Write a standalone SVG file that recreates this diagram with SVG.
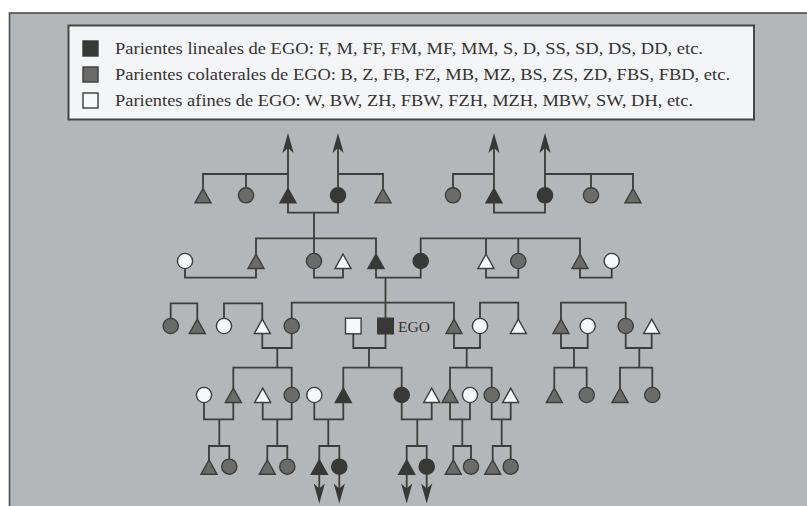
<svg xmlns="http://www.w3.org/2000/svg" xmlns:xlink="http://www.w3.org/1999/xlink" width="807" height="506" viewBox="0 0 807 506">
<style>
.bg{fill:#ffffff}
.panel{fill:#b4b7b9;stroke:#4d4d4b;stroke-width:1.6}
.legend{fill:#f3f5f6;stroke:#464644;stroke-width:2}
.lt{font-family:"Liberation Serif","Times New Roman",serif;font-size:17px;fill:#333331}
.ego{font-family:"Liberation Serif","Times New Roman",serif;font-size:15.5px;fill:#333331}
.k{fill:#383836;stroke:#383836;stroke-width:1.4}
.g{fill:#6b6b6a;stroke:#3c3c3a;stroke-width:1.4}
.w{fill:#f7f8f9;stroke:#3c3c3a;stroke-width:1.4}
.ln{fill:none;stroke:#3c3c3a;stroke-width:1.8}
.ah{fill:#383836;stroke:none}
</style>
<defs>
<path id="tri" d="M0,-6.8 L8,7.5 L-8,7.5 Z"/>
<circle id="cir" r="7.6"/>
<rect id="sq" x="-7.8" y="-7.8" width="15.6" height="15.6"/>
<path id="up" d="M0,0 L5.6,20 L0,15 L-5.6,20 Z"/>
<path id="dn" d="M0,0 L5.6,-20 L0,-15 L-5.6,-20 Z"/>
</defs>
<rect class="bg" x="0" y="0" width="807" height="506"/>
<rect class="panel" x="9.5" y="13" width="810" height="510"/>
<g id="legend">
<rect class="legend" x="68.5" y="25.5" width="685.5" height="94"/>
<rect class="k" x="83" y="41" width="15" height="15"/>
<rect class="g" x="83" y="67" width="15" height="15"/>
<rect class="w" x="83" y="93" width="15" height="15"/>
<text class="lt" x="115" y="54" textLength="588" lengthAdjust="spacingAndGlyphs">Parientes lineales de EGO: F, M, FF, FM, MF, MM, S, D, SS, SD, DS, DD, etc.</text>
<text class="lt" x="115" y="80" textLength="615" lengthAdjust="spacingAndGlyphs">Parientes colaterales de EGO: B, Z, FB, FZ, MB, MZ, BS, ZS, ZD, FBS, FBD, etc.</text>
<text class="lt" x="115" y="105.5" textLength="578" lengthAdjust="spacingAndGlyphs">Parientes afines de EGO: W, BW, ZH, FBW, FZH, MZH, MBW, SW, DH, etc.</text>
</g>
<g id="connectors">
<path class="ln" d="M288,140 V188.5 M338,140 V187.5 M494,140 V188.5 M545,140 V187.5
M203,188.5 V174 H288 M246,187.5 V174 M338,174 H383 V188.5 M453,187.5 V174 H494 M545,174 H633 V188.5 M591,174 V187.5
M288,202.5 V212.7 H338 V202.6 M494,202.5 V212.7 H545 V202.6
M314,212.7 V253.5 M256,254.5 V238.3 H376 V254.5
M420.7,253.5 V238.3 H580 V254.5 M486,238.3 V254.5 M518.3,238.3 V253.5
M185,268.6 V277.7 H256 V268.5 M314,268.6 V277.7 H343 V268.5 M376,268.5 V277.7 H420.7 V268.6 M486,268.5 V277.7 H518.3 V268.6 M580,268.5 V277.7 H611.7 V268.6
M385.5,277.7 V318.2
M170.7,318.4 V303.3 H197.3 V319.2 M224,318.4 V303.3 H262.3 V319.2 M291.7,318.4 V302.7 H454 V319.2 M480,318.4 V302.7 H518.3 V319.2 M561,319.2 V302.7 H625.7 V318.4
M262.3,333.5 V348 H291.7 V333.6 M353.3,333.8 V348 H385.5 V333.8 M454,333.5 V348 H480 V333.6 M561,333.5 V348 H587.7 V333.6 M625.7,333.6 V348 H651.7 V333.5
M277.3,348 V367.7 M369,348 V367.7 M466.7,348 V367.7 M574,348 V367.7 M639.3,348 V367.7
M233.3,388.2 V367.7 H291.7 V387.4 M343.3,388.2 V367.7 H401.7 V387.4 M450,388.2 V367.7 H491.7 V387.4 M554.3,388.2 V367.7 H586.7 V387.4 M620,388.2 V367.7 H652.3 V387.4
M204,402.6 V419.3 H233.3 V402.5 M262.7,402.5 V419.3 H291.7 V402.6 M314.3,402.6 V419.3 H343.3 V402.5 M401.7,402.6 V419.3 H431.7 V402.5 M450,402.5 V419.3 H470 V402.6 M491.7,402.6 V419.3 H510.7 V402.5
M219.3,419.3 V446 M277.3,419.3 V446 M328.3,419.3 V446 M417.3,419.3 V446 M462.3,419.3 V446 M501.7,419.3 V446
M209,459.9 V446 H229.3 V459.1 M267.3,459.9 V446 H287.3 V459.1 M319.3,459.9 V446 H339.3 V459.1 M406.7,459.9 V446 H426.7 V459.1 M453.3,459.9 V446 H471 V459.1 M492.7,459.9 V446 H510.7 V459.1
M319.3,474 V496 M339.3,474 V496 M406.7,474 V496 M426.7,474 V496"/>
<use href="#up" class="ah" x="288" y="133"/>
<use href="#up" class="ah" x="338" y="133"/>
<use href="#up" class="ah" x="494" y="133"/>
<use href="#up" class="ah" x="545" y="133"/>
<use href="#dn" class="ah" x="319.3" y="503.5"/>
<use href="#dn" class="ah" x="339.3" y="503.5"/>
<use href="#dn" class="ah" x="406.7" y="503.5"/>
<use href="#dn" class="ah" x="426.7" y="503.5"/>
</g>
<g id="FFB"><use href="#tri" class="g" x="203" y="195.3"/></g>
<g id="FFZ"><use href="#cir" class="g" x="246" y="195.3"/></g>
<g id="FF"><use href="#tri" class="k" x="288" y="195.3"/></g>
<g id="FM"><use href="#cir" class="k" x="338" y="195.3"/></g>
<g id="FMB"><use href="#tri" class="g" x="383" y="195.3"/></g>
<g id="MFZ"><use href="#cir" class="g" x="453" y="195.3"/></g>
<g id="MF"><use href="#tri" class="k" x="494" y="195.3"/></g>
<g id="MM"><use href="#cir" class="k" x="545" y="195.3"/></g>
<g id="MMZ"><use href="#cir" class="g" x="591" y="195.3"/></g>
<g id="MMB"><use href="#tri" class="g" x="633" y="195.3"/></g>

<g id="FBW"><use href="#cir" class="w" x="185" y="261"/></g>
<g id="FB"><use href="#tri" class="g" x="256" y="261"/></g>
<g id="FZ"><use href="#cir" class="g" x="314" y="261"/></g>
<g id="FZH"><use href="#tri" class="w" x="343" y="261"/></g>
<g id="F"><use href="#tri" class="k" x="376" y="261"/></g>
<g id="M"><use href="#cir" class="k" x="420.7" y="261"/></g>
<g id="MZH"><use href="#tri" class="w" x="486" y="261"/></g>
<g id="MZ"><use href="#cir" class="g" x="518.3" y="261"/></g>
<g id="MB"><use href="#tri" class="g" x="580" y="261"/></g>
<g id="MBW"><use href="#cir" class="w" x="611.7" y="261"/></g>

<g id="g3a"><use href="#cir" class="g" x="170.7" y="326"/></g>
<g id="g3b"><use href="#tri" class="g" x="197.3" y="326"/></g>
<g id="g3c"><use href="#cir" class="w" x="224" y="326"/></g>
<g id="g3d"><use href="#tri" class="w" x="262.3" y="326"/></g>
<g id="Z"><use href="#cir" class="g" x="291.7" y="326"/></g>
<g id="W"><use href="#sq" class="w" x="353.3" y="326"/></g>
<g id="EGO"><use href="#sq" class="k" x="385.5" y="326"/><text class="ego" x="398" y="331.5">EGO</text></g>
<g id="B"><use href="#tri" class="g" x="454" y="326"/></g>
<g id="BW"><use href="#cir" class="w" x="480" y="326"/></g>
<g id="g3h"><use href="#tri" class="w" x="518.3" y="326"/></g>
<g id="g3i"><use href="#tri" class="g" x="561" y="326"/></g>
<g id="g3j"><use href="#cir" class="w" x="587.7" y="326"/></g>
<g id="g3k"><use href="#cir" class="g" x="625.7" y="326"/></g>
<g id="g3l"><use href="#tri" class="w" x="651.7" y="326"/></g>

<g id="g4a"><use href="#cir" class="w" x="204" y="395"/></g>
<g id="g4b"><use href="#tri" class="g" x="233.3" y="395"/></g>
<g id="g4c"><use href="#tri" class="w" x="262.7" y="395"/></g>
<g id="g4d"><use href="#cir" class="g" x="291.7" y="395"/></g>
<g id="SW"><use href="#cir" class="w" x="314.3" y="395"/></g>
<g id="S"><use href="#tri" class="k" x="343.3" y="395"/></g>
<g id="D"><use href="#cir" class="k" x="401.7" y="395"/></g>
<g id="DH"><use href="#tri" class="w" x="431.7" y="395"/></g>
<g id="BS"><use href="#tri" class="g" x="450" y="395"/></g>
<g id="BSW"><use href="#cir" class="w" x="470" y="395"/></g>
<g id="BD"><use href="#cir" class="g" x="491.7" y="395"/></g>
<g id="BDH"><use href="#tri" class="w" x="510.7" y="395"/></g>
<g id="g4m"><use href="#tri" class="g" x="554.3" y="395"/></g>
<g id="g4n"><use href="#cir" class="g" x="586.7" y="395"/></g>
<g id="g4o"><use href="#tri" class="g" x="620" y="395"/></g>
<g id="g4p"><use href="#cir" class="g" x="652.3" y="395"/></g>

<g id="g5a"><use href="#tri" class="g" x="209" y="466.7"/></g>
<g id="g5b"><use href="#cir" class="g" x="229.3" y="466.7"/></g>
<g id="g5c"><use href="#tri" class="g" x="267.3" y="466.7"/></g>
<g id="g5d"><use href="#cir" class="g" x="287.3" y="466.7"/></g>
<g id="SS"><use href="#tri" class="k" x="319.3" y="466.7"/></g>
<g id="SD"><use href="#cir" class="k" x="339.3" y="466.7"/></g>
<g id="DS"><use href="#tri" class="k" x="406.7" y="466.7"/></g>
<g id="DD"><use href="#cir" class="k" x="426.7" y="466.7"/></g>
<g id="g5i"><use href="#tri" class="g" x="453.3" y="466.7"/></g>
<g id="g5j"><use href="#cir" class="g" x="471" y="466.7"/></g>
<g id="g5k"><use href="#tri" class="g" x="492.7" y="466.7"/></g>
<g id="g5l"><use href="#cir" class="g" x="510.7" y="466.7"/></g>
</svg>
